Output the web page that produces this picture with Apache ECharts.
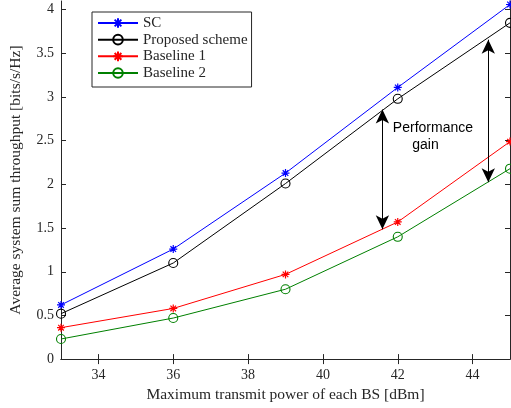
<!DOCTYPE html>
<html>
<head>
<meta charset="utf-8">
<script src="https://cdn.jsdelivr.net/npm/echarts@6/dist/echarts.min.js"></script>
<style>html,body{margin:0;padding:0;background:#fff}#c{width:511px;height:408px}</style>
</head>
<body>
<div id="c"></div>
<script>
const powers = [33, 36, 39, 42, 45];
const scVals = [0.62, 1.26, 2.13, 3.11, 4.06];
const proposedVals = [0.52, 1.10, 2.01, 2.98, 3.85];
const baseline1Vals = [0.36, 0.58, 0.97, 1.57, 2.49];
const baseline2Vals = [0.23, 0.47, 0.80, 1.40, 2.18];
const xTicks = [34, 36, 38, 40, 42, 44];
const yTicks = [0, 0.5, 1, 1.5, 2, 2.5, 3, 3.5, 4];
const seriesNames = ['SC', 'Proposed scheme', 'Baseline 1', 'Baseline 2'];
const gainArrows = [[[41.59, 2.857], [41.59, 1.486]], [[44.42, 3.657], [44.42, 2.026]]];
const gainLabels = [{text: 'Performance', at: [42.94, 2.64]}, {text: 'gain', at: [42.74, 2.446]}];

const serif = 'Liberation Serif';
const axisCol = '#262626';
const star = 'path://M5,0L5,10M0,5L10,5M1.5,1.5L8.5,8.5M1.5,8.5L8.5,1.5';
const ring = 'path://M10,5A5,5,0,1,1,0,5A5,5,0,1,1,10,5Z';

function pairs(vals) { return powers.map((x, i) => [x, vals[i]]); }
function mkSeries(name, vals, color, symbol) {
  const isStar = symbol === star;
  return {
    name: name, type: 'line', data: pairs(vals),
    symbol: symbol, symbolSize: isStar ? 8 : 9,
    lineStyle: {color: color, width: 1},
    itemStyle: isStar ? {color: color, borderColor: color, borderWidth: 1.2}
                      : {color: 'rgba(255,255,255,0)', borderColor: color, borderWidth: 1.1},
    emphasis: {disabled: true},
    z: 3
  };
}

const chart = echarts.init(document.getElementById('c'), null, {renderer: 'canvas'});
const baseAxis = {
  axisLine: {show: true, lineStyle: {color: axisCol, width: 1}},
  splitLine: {show: false}
};
chart.setOption({
  animation: false,
  backgroundColor: '#fff',
  grid: {left: 58, right: 1, top: 1, bottom: 48, containLabel: false},
  xAxis: [
    Object.assign({}, baseAxis, {
      type: 'value', min: 33, max: 45, position: 'bottom',
      axisTick: {inside: true, length: 5, customValues: xTicks, lineStyle: {color: axisCol}},
      axisLabel: {customValues: xTicks, color: axisCol, fontFamily: serif, fontSize: 14, margin: 9},
      name: 'Maximum transmit power of each BS [dBm]', nameLocation: 'middle', nameGap: 22,
      nameTextStyle: {color: axisCol, fontFamily: serif, fontSize: 15.5}
    }),
    Object.assign({}, baseAxis, {
      type: 'value', min: 33, max: 45, position: 'top',
      axisTick: {inside: true, length: 5, customValues: xTicks, lineStyle: {color: axisCol}},
      axisLabel: {show: false}
    })
  ],
  yAxis: [
    Object.assign({}, baseAxis, {
      type: 'value', min: 0, max: 4.1, position: 'left',
      axisTick: {inside: true, length: 5, customValues: yTicks, lineStyle: {color: axisCol}},
      axisLabel: {customValues: yTicks, color: axisCol, fontFamily: serif, fontSize: 14, margin: 7},
      name: 'Average system sum throughput [bits/s/Hz]', nameLocation: 'middle', nameGap: 37,
      nameTextStyle: {color: axisCol, fontFamily: serif, fontSize: 15.5}
    }),
    Object.assign({}, baseAxis, {
      type: 'value', min: 0, max: 4.1, position: 'right',
      axisTick: {inside: true, length: 5, customValues: yTicks, lineStyle: {color: axisCol}},
      axisLabel: {show: false}
    })
  ],
  legend: {
    data: seriesNames, orient: 'vertical', left: 92, top: 12,
    itemWidth: 40, itemHeight: 12, itemGap: 0.67,
    padding: [3, 4, 6, 5],
    backgroundColor: '#fff', borderColor: axisCol, borderWidth: 1, borderRadius: 0,
    textStyle: {color: axisCol, fontFamily: serif, fontSize: 15, lineHeight: 16},
    selectedMode: false
  },
  series: [
    mkSeries(seriesNames[0], scVals, '#0000ff', star),
    mkSeries(seriesNames[1], proposedVals, '#000000', ring),
    mkSeries(seriesNames[2], baseline1Vals, '#ff0000', star),
    mkSeries(seriesNames[3], baseline2Vals, '#008000', ring),
    {
      name: 'annot', type: 'line', data: [], silent: true,
      markLine: {
        silent: true, animation: false,
        symbol: ['arrow', 'arrow'], symbolSize: [10, 14],
        lineStyle: {color: '#000', width: 1, type: 'solid'},
        label: {show: false},
        emphasis: {disabled: true},
        data: gainArrows.map(a => [{coord: a[0]}, {coord: a[1]}])
      },
      markPoint: {
        silent: true, animation: false, symbol: 'circle', symbolSize: 0,
        label: {show: true, position: 'inside', color: '#000', fontFamily: 'Liberation Sans', fontSize: 14},
        data: gainLabels.map(g => ({coord: g.at, value: g.text, label: {formatter: g.text}}))
      }
    }
  ]
});
</script>
</body>
</html>
